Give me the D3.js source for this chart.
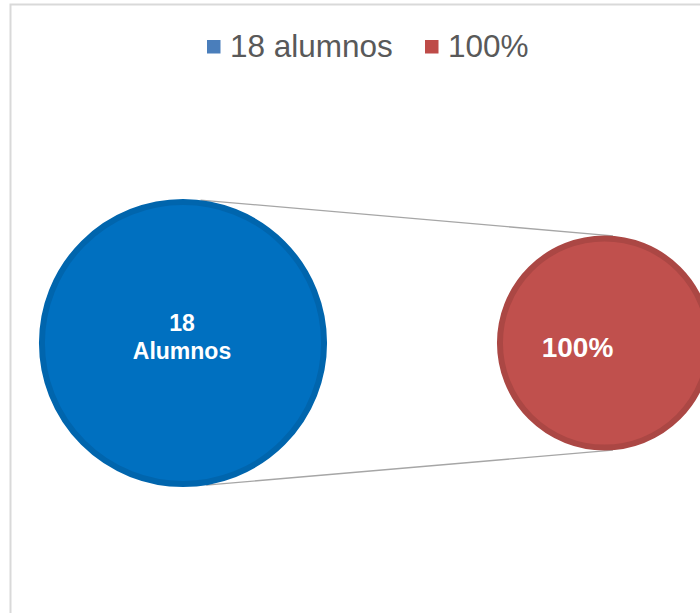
<!DOCTYPE html>
<html>
<head>
<meta charset="utf-8">
<script src="https://cdn.jsdelivr.net/npm/d3@7"></script>
<style>
  html, body { margin: 0; padding: 0; background: #fff; }
  svg { display: block; }
</style>
</head>
<body>
<svg id="chart" width="700" height="613"></svg>
<script>
// ---- data ----
const categories = ["18 alumnos", "100%"];
const primaryValues = [18];          // first pie: all 18 students
const secondaryValues = [18];        // second pie: the split slice
const primaryLabels = [["18", "Alumnos"]];
const secondaryLabels = ["100%"];
const colors = ["#0070c0", "#c0504d"];
const ringColors = ["#0065ad", "#ab4744"];

const svg = d3.select("#chart");

// chart area border
svg.append("rect")
  .attr("x", 10.5).attr("y", 4.5)
  .attr("width", 720).attr("height", 640)
  .attr("fill", "#fff")
  .attr("stroke", "#d9d9d9")
  .attr("stroke-width", 2);

// layout
const p1 = { cx: 183, cy: 343, r: 144 };
const p2 = { cx: 604.5, cy: 343, r: 107.5 };
const ring = 6;

const pie = d3.pie().sort(null).value(d => d);

// connector lines (drawn first, under the pies)
const a1 = 7 * Math.PI / 180, a2 = 4.5 * Math.PI / 180;
const conn = [
  [[p1.cx + p1.r * Math.sin(a1), p1.cy - p1.r * Math.cos(a1)], [p2.cx + p2.r * Math.sin(a2), p2.cy - p2.r * Math.cos(a2)]],
  [[p1.cx + p1.r * Math.sin(a1 + 0.04), p1.cy + p1.r * Math.cos(a1 + 0.04)], [p2.cx + p2.r * Math.sin(a2), p2.cy + p2.r * Math.cos(a2)]]
];
svg.selectAll("line.conn").data(conn).enter().append("line")
  .attr("class", "conn")
  .attr("x1", d => d[0][0]).attr("y1", d => d[0][1])
  .attr("x2", d => d[1][0]).attr("y2", d => d[1][1])
  .attr("stroke", "#a6a6a6").attr("stroke-width", 1.3);

function drawPie(values, p, ci) {
  const g = svg.append("g").attr("transform", `translate(${p.cx},${p.cy})`);
  const arc = d3.arc().innerRadius(0).outerRadius(p.r - ring / 2);
  g.selectAll("path").data(pie(values)).enter().append("path")
    .attr("d", arc)
    .attr("fill", colors[ci])
    .attr("stroke", ringColors[ci])
    .attr("stroke-width", ring);
  return g;
}

const g1 = drawPie(primaryValues, p1, 0);
const t1 = g1.append("text")
  .attr("text-anchor", "middle")
  .attr("font-family", "Arial, 'Liberation Sans', sans-serif")
  .attr("font-weight", "bold")
  .attr("font-size", 23)
  .attr("fill", "#fff");
primaryLabels[0].forEach((s, i) => {
  t1.append("tspan").attr("x", -1).attr("y", -12 + i * 28).text(s);
});

const g2 = drawPie(secondaryValues, p2, 1);
g2.append("text")
  .attr("x", -27).attr("y", 14)
  .attr("text-anchor", "middle")
  .attr("font-family", "Arial, 'Liberation Sans', sans-serif")
  .attr("font-weight", "bold")
  .attr("font-size", 28)
  .attr("fill", "#fff")
  .text(secondaryLabels[0]);

// legend
const legendX = [207, 425];
const lg = svg.append("g");
categories.forEach((c, i) => {
  lg.append("rect")
    .attr("x", legendX[i]).attr("y", 40)
    .attr("width", 13.5).attr("height", 13.5)
    .attr("fill", i === 0 ? "#4a7ebb" : "#be4b48");
  lg.append("text")
    .attr("x", legendX[i] + 23).attr("y", 57)
    .attr("font-family", "Arial, 'Liberation Sans', sans-serif")
    .attr("font-size", 31.5)
    .attr("fill", "#595959")
    .text(c);
});
</script>
</body>
</html>
